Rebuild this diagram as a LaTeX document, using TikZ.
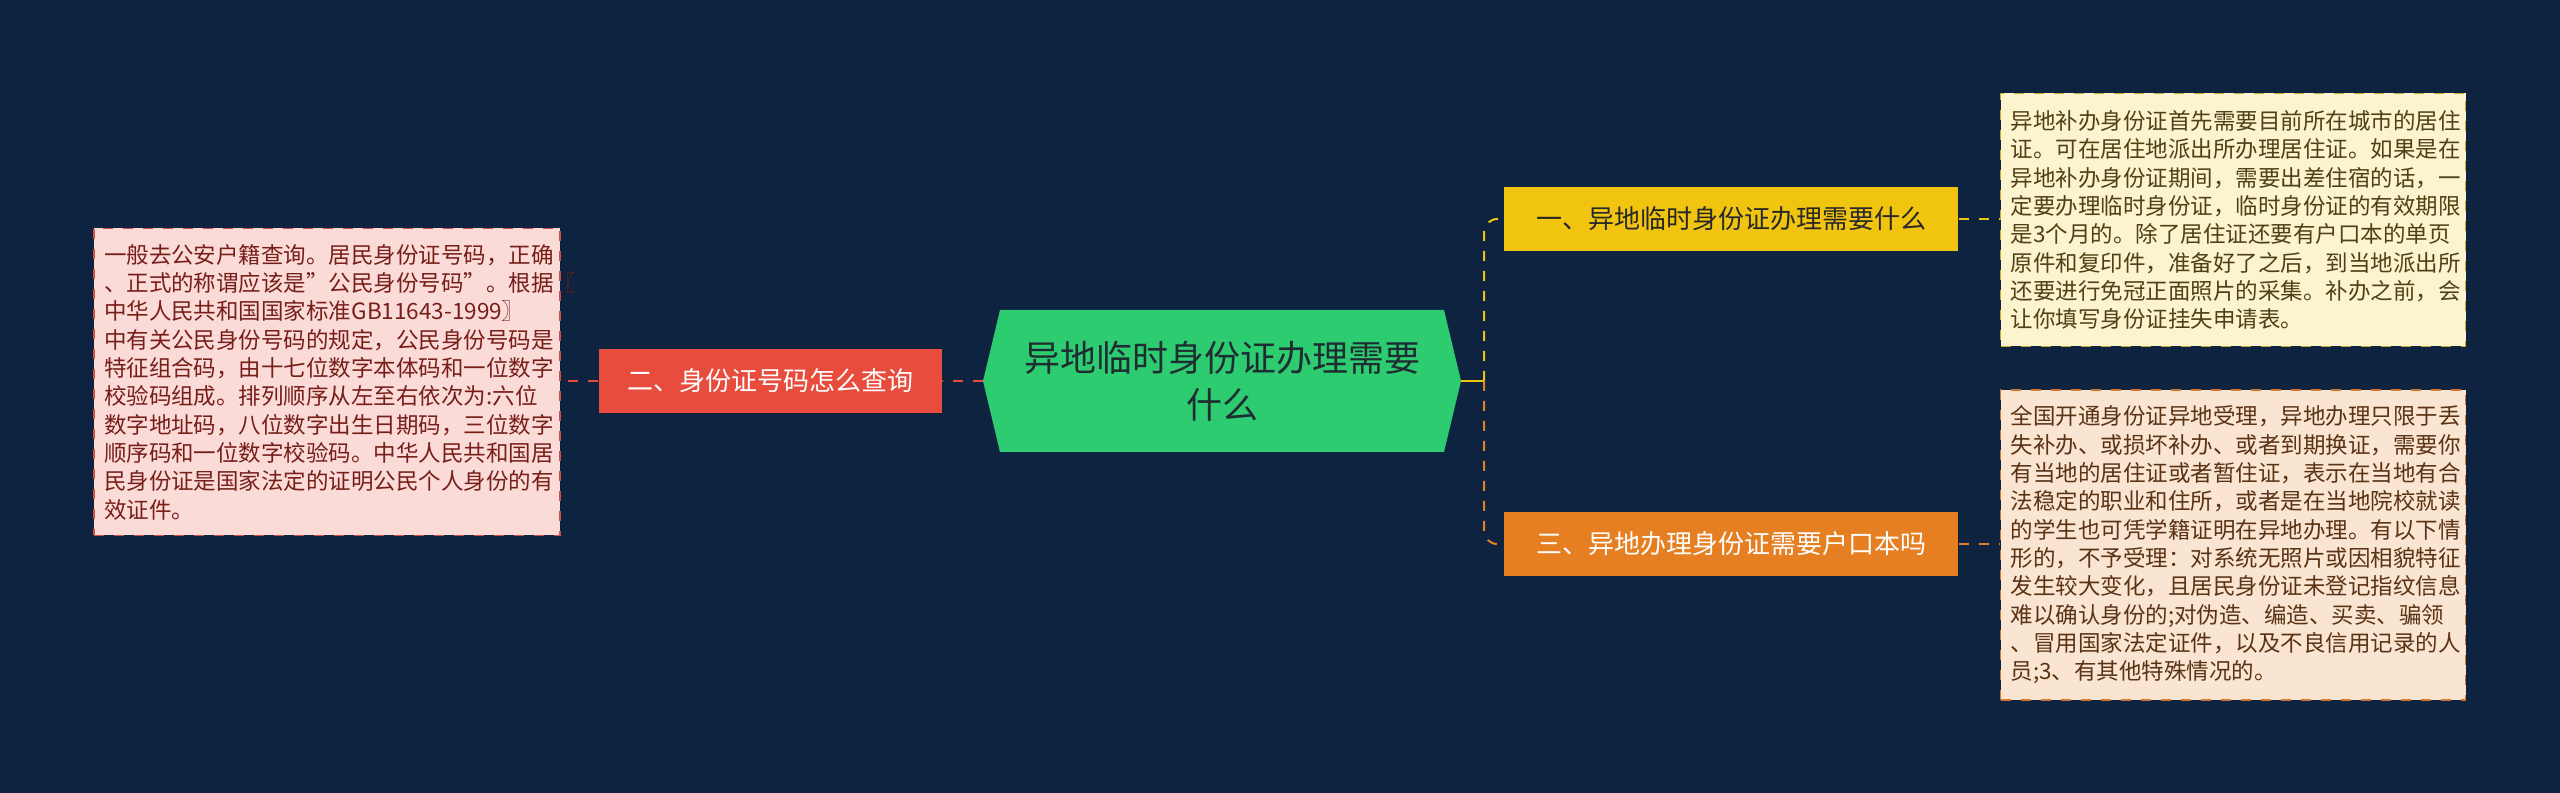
\documentclass[tikz,border=0pt]{standalone}
\usepackage{fontspec}
\setmainfont{Noto Sans CJK SC}
\begin{document}
\begin{tikzpicture}[x=0.3pt,y=-0.3pt,
  box/.style={draw, dashed, line width=0.5pt, minimum width=#1*0.3pt, text width=#1*0.3pt-20*0.3pt, align=left, inner xsep=10*0.3pt, inner ysep=0pt, font=\fontsize{6.75pt}{8.5pt}\selectfont},
  br/.style={minimum width=#1*0.3pt, minimum height=19pt, inner sep=0pt, font=\fontsize{7.8pt}{9pt}\selectfont},
  conn/.style={dashed, line width=0.6pt}]
\definecolor{bg}{HTML}{0E2340}
\fill[bg] (0,0) rectangle (2560,793);
\useasboundingbox (0,0) rectangle (2560,793);
% center
\coordinate (hl) at (983,381); \coordinate (hr) at (1461,381);
\fill[fill={rgb,255:red,46;green,204;blue,113}] (983,381) -- (1000,310) -- (1444,310) -- (1461,381) -- (1444,452) -- (1000,452) -- cycle;
\node[font=\fontsize{10.8pt}{14pt}\selectfont, text={rgb,255:red,30;green,45;blue,50}, align=center] (c) at (1222,381) {异地临时身份证办理需要\\什么};
% branches
\node[br=343, fill={rgb,255:red,231;green,76;blue,60}, text=white] (red) at (770,381) {二、身份证号码怎么查询};
\node[br=454, fill={rgb,255:red,241;green,196;blue,15}, text={rgb,255:red,40;green,40;blue,40}] (yel) at (1731,219) {一、异地临时身份证办理需要什么};
\node[br=454, fill={rgb,255:red,230;green,126;blue,34}, text=white] (org) at (1731,544) {三、异地办理身份证需要户口本吗};
% leaves
\node[box=466, minimum height=307*0.3pt, fill={rgb,255:red,250;green,219;blue,216}, draw={rgb,255:red,200;green,80;blue,70}, text={rgb,255:red,120;green,30;blue,25}] (L) at (327,382) {一般去公安户籍查询。居民身份证号码，正确\\、正式的称谓应该是\symbol{34}公民身份号码\symbol{34}。根据〖\\中华人民共和国国家标准GB11643-1999〗\\中有关公民身份号码的规定，公民身份号码是\\特征组合码，由十七位数字本体码和一位数字\\校验码组成。排列顺序从左至右依次为:六位\\数字地址码，八位数字出生日期码，三位数字\\顺序码和一位数字校验码。中华人民共和国居\\民身份证是国家法定的证明公民个人身份的有\\效证件。};
\node[box=465, minimum height=253*0.3pt, fill={rgb,255:red,252;green,243;blue,207}, draw={rgb,255:red,200;green,170;blue,40}, text={rgb,255:red,80;green,65;blue,20}] (RT) at (2233,220) {异地补办身份证首先需要目前所在城市的居住\\证。可在居住地派出所办理居住证。如果是在\\异地补办身份证期间，需要出差住宿的话，一\\定要办理临时身份证，临时身份证的有效期限\\是3个月的。除了居住证还要有户口本的单页\\原件和复印件，准备好了之后，到当地派出所\\还要进行免冠正面照片的采集。补办之前，会\\让你填写身份证挂失申请表。};
\node[box=465, minimum height=310*0.3pt, fill={rgb,255:red,250;green,229;blue,211}, draw={rgb,255:red,210;green,120;blue,50}, text={rgb,255:red,90;green,50;blue,20}] (RB) at (2233,545) {全国开通身份证异地受理，异地办理只限于丢\\失补办、或损坏补办、或者到期换证，需要你\\有当地的居住证或者暂住证，表示在当地有合\\法稳定的职业和住所，或者是在当地院校就读\\的学生也可凭学籍证明在异地办理。有以下情\\形的，不予受理：对系统无照片或因相貌特征\\发生较大变化，且居民身份证未登记指纹信息\\难以确认身份的;对伪造、编造、买卖、骗领\\、冒用国家法定证件，以及不良信用记录的人\\员;3、有其他特殊情况的。};
% connectors
\draw[conn, draw={rgb,255:red,231;green,76;blue,60}] (hl) -- (red.east);
\draw[conn, draw={rgb,255:red,231;green,76;blue,60}] (red.west) -- (L.east |- red.west);
\draw[line width=0.6pt, draw={rgb,255:red,241;green,196;blue,15}] (hr) -- (1484,381);
\draw[conn, draw={rgb,255:red,241;green,196;blue,15}, rounded corners=4pt] (1484,381) |- (yel.west);
\draw[conn, draw={rgb,255:red,230;green,126;blue,34}, rounded corners=4pt] (1484,381) |- (org.west);
\draw[conn, draw={rgb,255:red,241;green,196;blue,15}] (yel.east) -- (RT.west |- yel.east);
\draw[conn, draw={rgb,255:red,230;green,126;blue,34}] (org.east) -- (RB.west |- org.east);
\end{tikzpicture}
\end{document}
